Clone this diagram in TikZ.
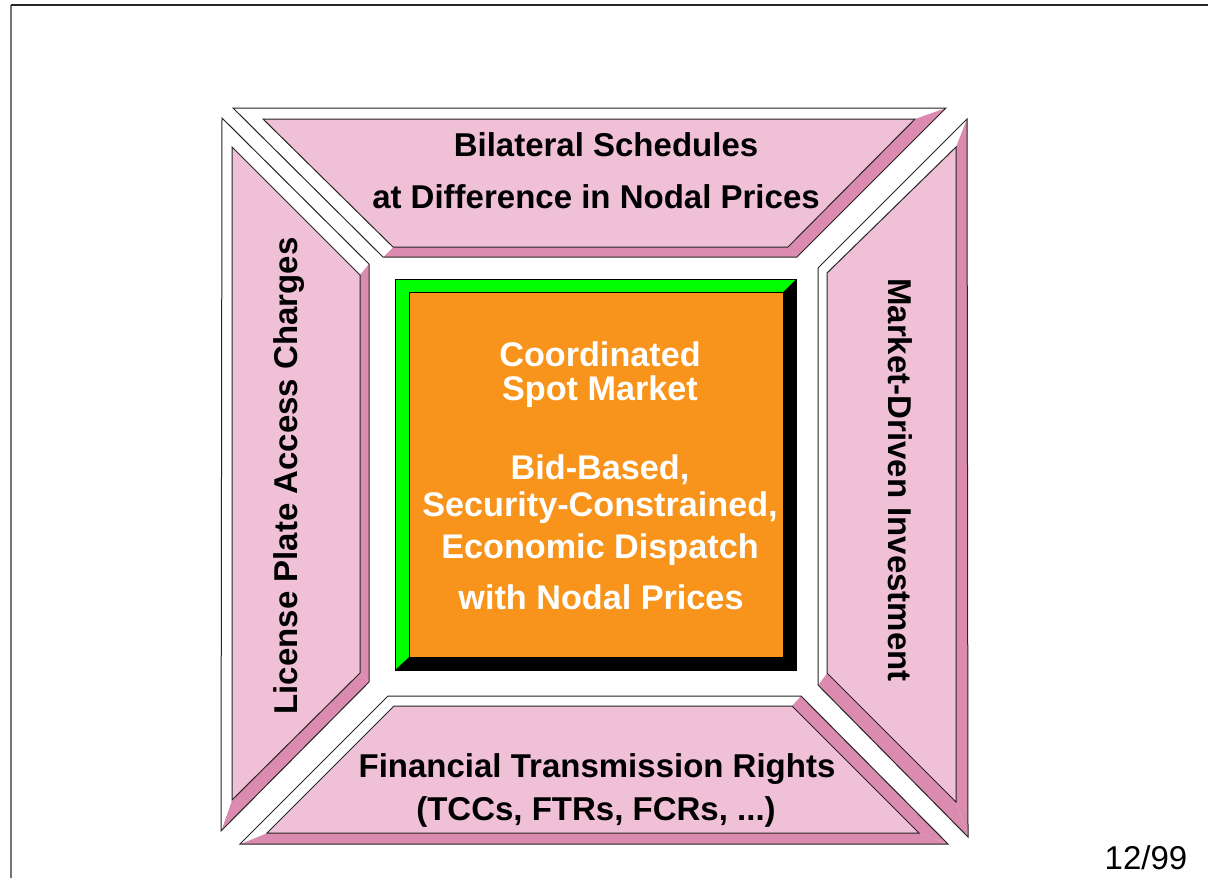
\documentclass[tikz,border=0pt]{standalone}
\usepackage{fontspec}
\setmainfont{Liberation Sans}

\definecolor{facepink}{HTML}{EFC0D6}
\definecolor{shadepink}{HTML}{DB8BB0}
\definecolor{spotorange}{HTML}{F8941C}
\definecolor{spotgreen}{HTML}{00FF00}

\tikzset{
  litestrip/.style={fill=white},
  darkstrip/.style={fill=shadepink},
  panelface/.style={fill=facepink},
  edgeline/.style={draw=black!85,line width=0.5pt,line join=miter},
  label/.style={font=\fontsize{16.5}{20}\selectfont\bfseries,inner sep=0pt},
  spotlabel/.style={font=\fontsize{17.1}{20}\selectfont\bfseries,inner sep=0pt,text=white}
}

\begin{document}
\begin{tikzpicture}[x=0.5pt,y=-0.5pt]

  \useasboundingbox (0,0) rectangle (1208,878);

  % page frame
  \draw[black!55,line width=1pt] (11,878) -- (11,5);
  \draw[black!85,line width=1pt] (11,5) -- (1208,5);

  % outer and inner corners of the four panels (TL, TR, BR, BL)
  \coordinate (top-o1) at (233,108);  \coordinate (top-o2) at (946,108);
  \coordinate (top-o3) at (797,257);  \coordinate (top-o4) at (383,257);
  \coordinate (top-i1) at (263,119);  \coordinate (top-i2) at (915,119);
  \coordinate (top-i3) at (788,247);  \coordinate (top-i4) at (393,247);

  \coordinate (left-o1) at (222,118); \coordinate (left-o2) at (369,264);
  \coordinate (left-o3) at (369,682); \coordinate (left-o4) at (221,831);
  \coordinate (left-i1) at (232,147); \coordinate (left-i2) at (360,275);
  \coordinate (left-i3) at (360,673); \coordinate (left-i4) at (232,800);

  \coordinate (right-o1) at (818,268); \coordinate (right-o2) at (967,119);
  \coordinate (right-o3) at (968,837); \coordinate (right-o4) at (818,685);
  \coordinate (right-i1) at (827,273); \coordinate (right-i2) at (956,147);
  \coordinate (right-i3) at (956,802); \coordinate (right-i4) at (827,673);

  \coordinate (bottom-o1) at (388,696); \coordinate (bottom-o2) at (801,696);
  \coordinate (bottom-o3) at (948,844); \coordinate (bottom-o4) at (240,844);
  \coordinate (bottom-i1) at (394,706); \coordinate (bottom-i2) at (792,706);
  \coordinate (bottom-i3) at (919,833); \coordinate (bottom-i4) at (267,833);

  % bevelled panels
  \foreach \p in {top,left,right,bottom} {
    \fill[litestrip] (\p-o1) -- (\p-o2) -- (\p-i2) -- (\p-i1) -- cycle;
    \fill[darkstrip] (\p-o2) -- (\p-o3) -- (\p-i3) -- (\p-i2) -- cycle;
    \fill[darkstrip] (\p-o3) -- (\p-o4) -- (\p-i4) -- (\p-i3) -- cycle;
    \fill[litestrip] (\p-o4) -- (\p-o1) -- (\p-i1) -- (\p-i4) -- cycle;
    \fill[panelface] (\p-i1) -- (\p-i2) -- (\p-i3) -- (\p-i4) -- cycle;
    \draw[edgeline] (\p-o1) -- (\p-o2) -- (\p-o3) -- (\p-o4) -- cycle;
    \draw[edgeline] (\p-i1) -- (\p-i2) -- (\p-i3) -- (\p-i4) -- cycle;
  }

  % spot market block
  \coordinate (spot-o1) at (395,279); \coordinate (spot-o3) at (796,670);
  \coordinate (spot-i1) at (409,292); \coordinate (spot-i3) at (783,657);
  \fill[black] (spot-o1) rectangle (spot-o3);
  \fill[spotgreen] (spot-o1) -- (spot-o1 -| spot-o3) -- (spot-i1 -| spot-i3)
    -- (spot-i1) -- (spot-i1 |- spot-i3) -- (spot-o1 |- spot-o3) -- cycle;
  \fill[spotorange] (spot-i1) rectangle (spot-i3);
  \draw[black,line width=0.5pt] (spot-o1) rectangle (spot-o3);
  \draw[black,line width=0.5pt] (spot-i1) rectangle (spot-i3);

  % labels
  \begin{scope}[every node/.style={label}]
    \node (bilat1) at (606,145) {Bilateral Schedules};
    \node (bilat2) at (596,197) {at Difference in Nodal Prices};
    \node[rotate=90] (license) at (289,476) {License Plate Access Charges};
    \node[rotate=-90] (invest) at (900,480) {Market-Driven Investment};
    \node (ftr1) at (597,769) {Financial Transmission Rights};
    \node (ftr2) at (596,812) {(TCCs, FTRs, FCRs, ...)};
  \end{scope}

  \begin{scope}[every node/.style={spotlabel}]
    \node (spot1) at (600,354) {Coordinated};
    \node (spot2) at (600,392) {Spot Market};
    \node (spot3) at (600,470) {Bid-Based,};
    \node (spot4) at (600,508) {Security-Constrained,};
    \node (spot5) at (600,550) {Economic Dispatch};
    \node (spot6) at (601,597) {with Nodal Prices};
  \end{scope}

  \node[font=\fontsize{16.5}{20}\selectfont,inner sep=0pt] (page) at (1146,858) {12/99};

\end{tikzpicture}
\end{document}
